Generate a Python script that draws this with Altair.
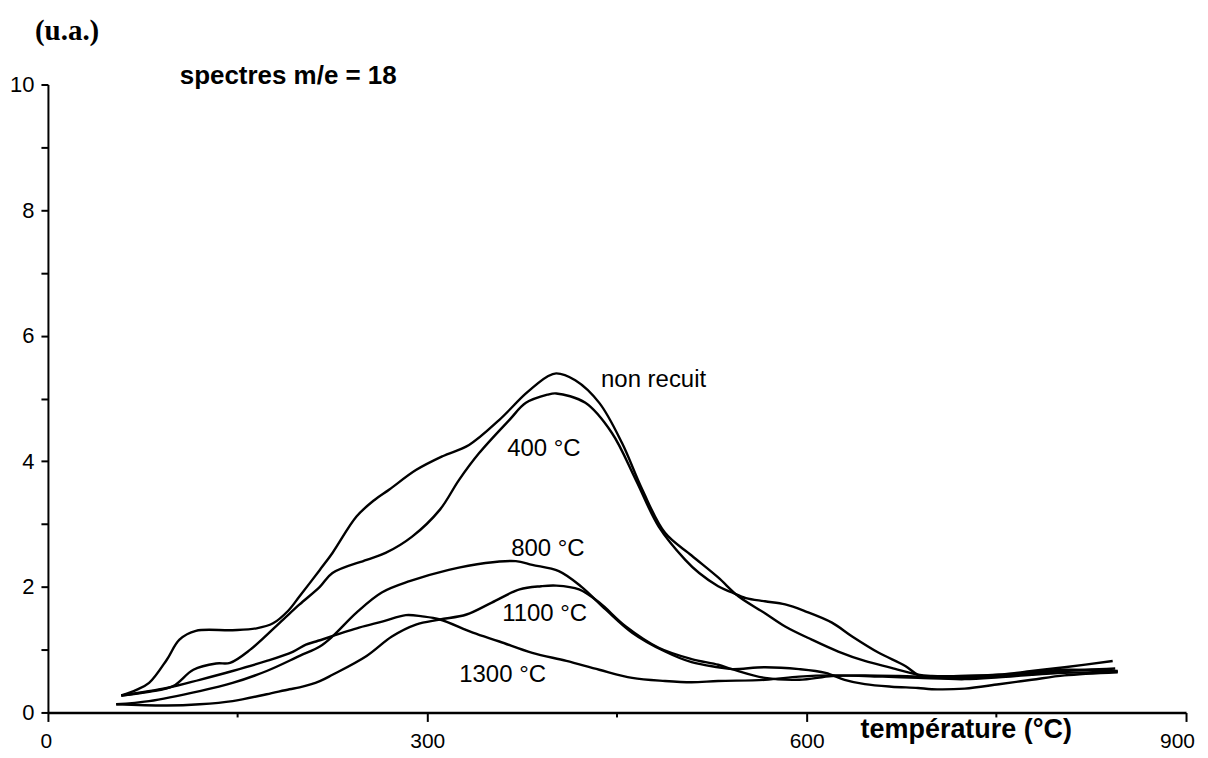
import altair as alt
import pandas as pd

# ---- axis ticks ----
x_ticks = [0, 300, 600, 900]
x_minor = [150, 450, 750]
y_ticks = list(range(0, 11))

# ---- series (température °C, intensité u.a.) ----
nr_x = [58, 70, 80, 94, 104, 117, 146, 165, 178, 190, 199, 215, 225, 244, 258, 270, 291, 312, 333, 357,
        378, 395, 402, 417, 436, 454, 470, 488, 509, 530, 546, 567, 583, 604, 625, 646, 667, 688, 699,
        725, 752, 778, 804, 842]
nr_y = [0.27, 0.36, 0.47, 0.84, 1.16, 1.30, 1.31, 1.34, 1.42, 1.62, 1.85, 2.27, 2.54, 3.12, 3.38, 3.55,
        3.86, 4.08, 4.26, 4.66, 5.08, 5.35, 5.40, 5.29, 4.93, 4.29, 3.55, 2.86, 2.50, 2.15, 1.85, 1.58,
        1.37, 1.16, 0.97, 0.82, 0.71, 0.60, 0.58, 0.58, 0.60, 0.66, 0.72, 0.82]

c400_x = [58, 80, 99, 115, 133, 144, 160, 186, 199, 215, 225, 252, 267, 288, 310, 325, 341, 365, 378,
          395, 402, 425, 446, 465, 483, 504, 515, 530, 541, 552, 567, 583, 599, 620, 636, 657, 678, 688,
          699, 725, 752, 778, 804, 844]
c400_y = [0.27, 0.33, 0.42, 0.68, 0.78, 0.79, 1.00, 1.48, 1.72, 2.00, 2.22, 2.43, 2.54, 2.80, 3.23, 3.70,
          4.13, 4.66, 4.93, 5.06, 5.08, 4.93, 4.45, 3.70, 2.96, 2.43, 2.22, 2.01, 1.91, 1.82, 1.77, 1.72,
          1.61, 1.43, 1.21, 0.95, 0.74, 0.60, 0.56, 0.55, 0.57, 0.62, 0.66, 0.70]

c800_x = [54, 80, 120, 146, 173, 199, 215, 225, 244, 264, 286, 317, 346, 370, 383, 404, 422, 441, 462,
          488, 509, 530, 541, 567, 594, 615, 630, 646, 667, 688, 699, 725, 752, 778, 804, 846]
c800_y = [0.13, 0.18, 0.34, 0.47, 0.66, 0.90, 1.05, 1.21, 1.59, 1.91, 2.09, 2.27, 2.38, 2.41, 2.35, 2.25,
          2.00, 1.64, 1.27, 0.97, 0.80, 0.72, 0.69, 0.72, 0.69, 0.63, 0.52, 0.45, 0.41, 0.39, 0.37, 0.38,
          0.45, 0.52, 0.59, 0.64]

c1100_x = [54, 94, 120, 146, 173, 191, 199, 215, 225, 252, 272, 291, 310, 331, 351, 373, 390, 402, 420,
           436, 457, 483, 509, 530, 541, 567, 594, 620, 646, 673, 688, 725, 752, 778, 804, 846]
c1100_y = [0.13, 0.11, 0.13, 0.18, 0.29, 0.37, 0.40, 0.50, 0.60, 0.90, 1.21, 1.40, 1.48, 1.56, 1.75, 1.96,
           2.01, 2.02, 1.96, 1.75, 1.37, 1.03, 0.85, 0.76, 0.69, 0.55, 0.52, 0.58, 0.59, 0.58, 0.57, 0.58,
           0.60, 0.64, 0.68, 0.66]

c1300_x = [58, 94, 120, 146, 173, 194, 204, 212, 246, 265, 283, 296, 310, 336, 357, 383, 410, 436, 462,
           488, 509, 530, 567, 594, 620, 660, 688, 725, 752, 778, 804, 846]
c1300_y = [0.27, 0.39, 0.52, 0.66, 0.82, 0.97, 1.08, 1.13, 1.35, 1.45, 1.55, 1.53, 1.48, 1.27, 1.13, 0.95,
           0.82, 0.68, 0.55, 0.50, 0.48, 0.50, 0.52, 0.57, 0.59, 0.57, 0.55, 0.53, 0.56, 0.60, 0.63, 0.65]

series = [("non recuit", nr_x, nr_y), ("400 °C", c400_x, c400_y), ("800 °C", c800_x, c800_y),
          ("1100 °C", c1100_x, c1100_y), ("1300 °C", c1300_x, c1300_y)]
rows = []
for name, xs_, ys_ in series:
    for a, b in zip(xs_, ys_):
        rows.append({"serie": name, "T": a, "I": b})
df = pd.DataFrame(rows)

W, H = 1140, 629
FONT = "Liberation Sans"
xscale = alt.Scale(domain=[0, 900], nice=False, zero=False)
yscale = alt.Scale(domain=[0, 10], nice=False)

lines = alt.Chart(df).mark_line(color="black", strokeWidth=2.4, interpolate="catmull-rom").encode(
    x=alt.X("T:Q", scale=xscale, axis=alt.Axis(
        values=x_ticks, title=None, grid=False, tickSize=9, tickWidth=2, tickColor="black",
        domainColor="black", domainWidth=2.5, labelFont=FONT, labelFontSize=21, labelColor="black",
        labelPadding=9, labelFlush=False, labelOverlap=False,
        labelOffset={"expr": "datum.value == 900 ? -9 : (datum.value == 0 ? -2 : 0)"})),
    y=alt.Y("I:Q", scale=yscale, axis=alt.Axis(
        values=y_ticks, labelExpr="datum.value % 2 == 0 ? datum.label : ''", title=None, grid=False,
        tickSize=7, tickWidth=2, tickColor="black", domainColor="black", domainWidth=2,
        labelFont=FONT, labelFontSize=22, labelColor="black", labelPadding=7, labelFlush=False,
        labelOverlap=False)),
    detail="serie:N",
    order="T:Q",
)

minor = alt.Chart(pd.DataFrame({"T": x_minor})).mark_rule(color="black", strokeWidth=2).encode(
    x=alt.X("T:Q", scale=xscale), y=alt.value(H), y2=alt.value(H + 5))


def label(txt, x, y, size=24, weight="normal", font=FONT, align="left"):
    return alt.Chart(pd.DataFrame({"a": [0]})).mark_text(
        text=txt, fontSize=size, fontWeight=weight, font=font, align=align, baseline="middle",
        color="black").encode(x=alt.value(x), y=alt.value(y))


texts = [
    label("(u.a.)", -13, -54, size=29, weight="bold", font="Liberation Serif"),
    label("spectres m/e = 18", 132, -9, size=26, weight="bold"),
    label("température (°C)", 814, 647, size=27, weight="bold"),
    label("non recuit", 554, 296),
    label("400 °C", 460, 365),
    label("800 °C", 464, 465),
    label("1100 °C", 455, 530),
    label("1300 °C", 412, 591),
]

chart = alt.layer(lines, minor, *texts).properties(
    width=W, height=H,
    padding={"left": 40, "top": 76, "right": 14, "bottom": 46},
    autosize=alt.AutoSizeParams(type="none"),
).configure_view(stroke=None)

chart.save("out.html", embed_options={"renderer": "svg", "actions": False})
